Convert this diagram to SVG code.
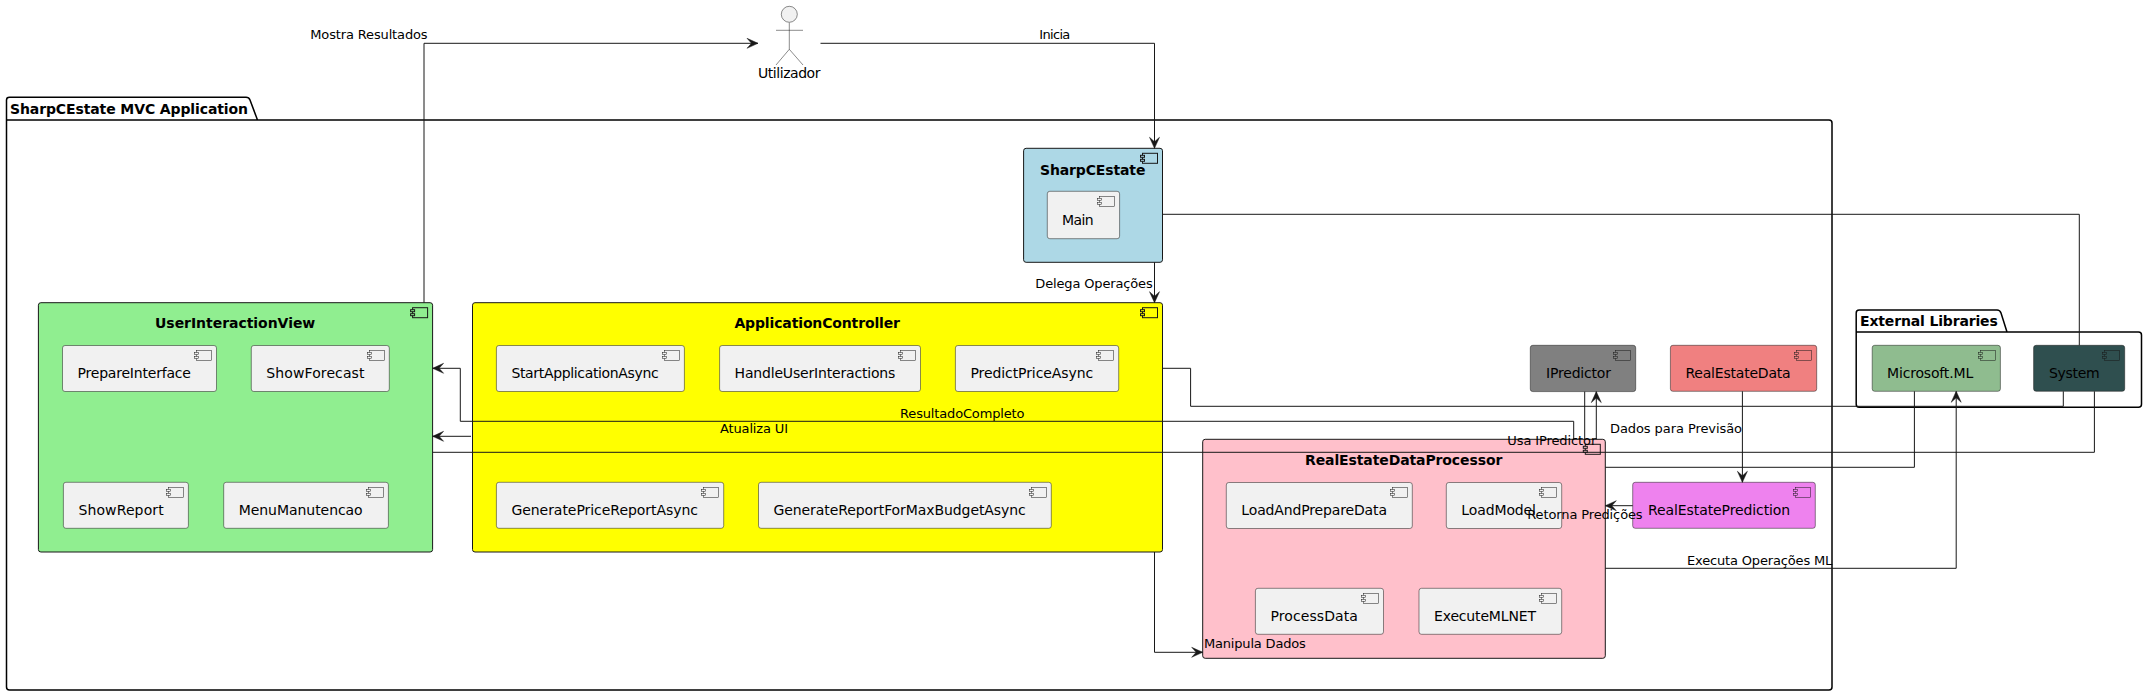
<svg xmlns="http://www.w3.org/2000/svg" width="2147" height="696" viewBox="0 0 2147 696">
<style>
text{font-family:"DejaVu Sans",sans-serif;fill:#000}
.t{font-size:14px}
.b{font-size:14px;font-weight:700}
.l{font-size:13px}
.leaf{stroke:#181818;stroke-width:.5}
.box{stroke:#181818;stroke-width:1}
.pkg{fill:#fff;stroke:#000;stroke-width:1.5}
.lk{fill:none;stroke:#181818;stroke-width:1}
.ar{marker-end:url(#a)}
</style>
<defs>
<marker id="a" markerUnits="userSpaceOnUse" markerWidth="13" markerHeight="12" refX="11" refY="5.500" orient="auto" overflow="visible"><path d="M0,0.500 L11,5.500 L0,10.500 L4.500,5.500 Z" fill="#181818" stroke="#181818" stroke-width=".5"/></marker>
<g id="ic"><rect x="-20" y="5" width="15" height="10"/><rect x="-22" y="7" width="4" height="2"/><rect x="-22" y="11" width="4" height="2"/></g>
</defs>
<rect width="2147" height="696" fill="#fff"/>

<g id="pkg-app">
<path class="pkg" d="M6.5,120 V100 Q6.5,97.300 9.500,97.300 H246 Q249,97.300 250,100 L257.500,120 M6.500,120 H1829 Q1832,120 1832,123 V687 Q1832,690 1829,690 H9.500 Q6.500,690 6.500,687 Z"/>
<text class="b" x="10" y="114" textLength="238">SharpCEstate MVC Application</text>
</g>
<g id="pkg-ext">
<path class="pkg" d="M1856.200,332 V313 Q1856.200,310 1859.200,310 H1997 Q2000,310 2001,313 L2007,332 M1856.200,332 H2138.500 Q2141.500,332 2141.500,335 V404.300 Q2141.500,407.300 2138.500,407.300 H1859.200 Q1856.200,407.300 1856.200,404.300 Z"/>
<text class="b" x="1860" y="326" textLength="137.800">External Libraries</text>
</g>

<g id="actor-utilizador" fill="none" stroke="#181818" stroke-width=".5">
<ellipse cx="789.300" cy="14.300" rx="8" ry="8" fill="#f1f1f1"/>
<path d="M789.300,22.700 V49.300 M776,30.300 H803 M776,65 L789.300,49.300 L803,65"/>
<text class="t" x="758" y="77.500" stroke="none" textLength="62.500">Utilizador</text>
</g>

<g id="SharpCEstate" fill="#ADD8E6" class="box"><rect x="1023.600" y="148.300" width="138.900" height="114" rx="2.500"/><use href="#ic" x="1162.500" y="148.300"/><text class="b" x="1040" y="175" stroke="none" textLength="105.400">SharpCEstate</text></g>
<g id="Main" fill="#F1F1F1" class="leaf"><rect x="1047.300" y="191.300" width="72.300" height="47.400" rx="2.500"/><use href="#ic" x="1119.600" y="191.300"/><text class="t" x="1062" y="224.500" stroke="none" textLength="31.700">Main</text></g>

<g id="UserInteractionView" fill="#90EE90" class="box"><rect x="38.400" y="302.700" width="394.200" height="249.300" rx="2.500"/><use href="#ic" x="432.600" y="302.700"/><text class="b" x="155" y="328" stroke="none" textLength="160.300">UserInteractionView</text></g>
<g id="PrepareInterface" fill="#F1F1F1" class="leaf"><rect x="62.500" y="345.500" width="154" height="46" rx="2.500"/><use href="#ic" x="216.500" y="345.500"/><text class="t" x="77.500" y="378" stroke="none" textLength="113.400">PrepareInterface</text></g>
<g id="ShowForecast" fill="#F1F1F1" class="leaf"><rect x="251.300" y="345.500" width="138" height="46" rx="2.500"/><use href="#ic" x="389.300" y="345.500"/><text class="t" x="266.300" y="378" stroke="none" textLength="98.200">ShowForecast</text></g>
<g id="ShowReport" fill="#F1F1F1" class="leaf"><rect x="63.400" y="482.300" width="125" height="46" rx="2.500"/><use href="#ic" x="188.400" y="482.300"/><text class="t" x="78.400" y="515" stroke="none" textLength="85.300">ShowReport</text></g>
<g id="MenuManutencao" fill="#F1F1F1" class="leaf"><rect x="223.700" y="482.300" width="164.700" height="46" rx="2.500"/><use href="#ic" x="388.400" y="482.300"/><text class="t" x="238.700" y="515" stroke="none" textLength="124">MenuManutencao</text></g>

<g id="ApplicationController" fill="#FFFF00" class="box"><rect x="472.500" y="302.700" width="690" height="249.300" rx="2.500"/><use href="#ic" x="1162.500" y="302.700"/><text class="b" x="734.400" y="328" stroke="none" textLength="165.600">ApplicationController</text></g>
<g id="StartApplicationAsync" fill="#F1F1F1" class="leaf"><rect x="496.400" y="345.500" width="188" height="46" rx="2.500"/><use href="#ic" x="684.400" y="345.500"/><text class="t" x="511.400" y="378" stroke="none" textLength="147.300">StartApplicationAsync</text></g>
<g id="HandleUserInteractions" fill="#F1F1F1" class="leaf"><rect x="719.600" y="345.500" width="200.900" height="46" rx="2.500"/><use href="#ic" x="920.500" y="345.500"/><text class="t" x="734.600" y="378" stroke="none" textLength="160.700">HandleUserInteractions</text></g>
<g id="PredictPriceAsync" fill="#F1F1F1" class="leaf"><rect x="955.400" y="345.500" width="163.300" height="46" rx="2.500"/><use href="#ic" x="1118.700" y="345.500"/><text class="t" x="970.400" y="378" stroke="none" textLength="122.800">PredictPriceAsync</text></g>
<g id="GeneratePriceReportAsync" fill="#F1F1F1" class="leaf"><rect x="496.400" y="482.300" width="227.300" height="46" rx="2.500"/><use href="#ic" x="723.700" y="482.300"/><text class="t" x="511.400" y="515" stroke="none" textLength="186.600">GeneratePriceReportAsync</text></g>
<g id="GenerateReportForMaxBudgetAsync" fill="#F1F1F1" class="leaf"><rect x="758.500" y="482.300" width="292.800" height="46" rx="2.500"/><use href="#ic" x="1051.300" y="482.300"/><text class="t" x="773.500" y="515" stroke="none" textLength="252.200">GenerateReportForMaxBudgetAsync</text></g>

<g id="RealEstateDataProcessor" fill="#FFC0CB" class="box"><rect x="1202.700" y="439.300" width="402.600" height="219" rx="2.500"/><use href="#ic" x="1605.300" y="439.300"/><text class="b" x="1305" y="465" stroke="none" textLength="197.300">RealEstateDataProcessor</text></g>
<g id="LoadAndPrepareData" fill="#F1F1F1" class="leaf"><rect x="1226.300" y="482.500" width="186" height="46" rx="2.500"/><use href="#ic" x="1412.300" y="482.500"/><text class="t" x="1241.300" y="515" stroke="none" textLength="145.700">LoadAndPrepareData</text></g>
<g id="LoadModel" fill="#F1F1F1" class="leaf"><rect x="1446.300" y="482.500" width="115.400" height="46" rx="2.500"/><use href="#ic" x="1561.700" y="482.500"/><text class="t" x="1461.300" y="515" stroke="none" textLength="74.700">LoadModel</text></g>
<g id="ProcessData" fill="#F1F1F1" class="leaf"><rect x="1255.400" y="588.300" width="128.100" height="46" rx="2.500"/><use href="#ic" x="1383.500" y="588.300"/><text class="t" x="1270.400" y="621" stroke="none" textLength="87.500">ProcessData</text></g>
<g id="ExecuteMLNET" fill="#F1F1F1" class="leaf"><rect x="1419" y="588.300" width="142.700" height="46" rx="2.500"/><use href="#ic" x="1561.700" y="588.300"/><text class="t" x="1434" y="621" stroke="none" textLength="102">ExecuteMLNET</text></g>

<g id="IPredictor" fill="#808080" class="leaf"><rect x="1530.300" y="345.300" width="105.400" height="46.300" rx="2.500"/><use href="#ic" x="1635.700" y="345.300"/><text class="t" x="1546" y="378" stroke="none" textLength="65">IPredictor</text></g>
<g id="RealEstateData" fill="#F08080" class="leaf"><rect x="1670.400" y="345.300" width="146.300" height="46" rx="2.500"/><use href="#ic" x="1816.700" y="345.300"/><text class="t" x="1685.400" y="378" stroke="none" textLength="105.300">RealEstateData</text></g>
<g id="RealEstatePrediction" fill="#EE82EE" class="leaf"><rect x="1632.700" y="482.300" width="182.600" height="46" rx="2.500"/><use href="#ic" x="1815.300" y="482.300"/><text class="t" x="1648" y="515" stroke="none" textLength="142.200">RealEstatePrediction</text></g>
<g id="MicrosoftML" fill="#8FBC8F" class="leaf"><rect x="1872.200" y="345.300" width="128.200" height="46" rx="2.500"/><use href="#ic" x="2000.400" y="345.300"/><text class="t" x="1887" y="378" stroke="none" textLength="86.200">Microsoft.ML</text></g>
<g id="System" fill="#2F4F4F" class="leaf"><rect x="2033.600" y="345.300" width="91.100" height="46" rx="2.500"/><use href="#ic" x="2124.700" y="345.300"/><text class="t" x="2049" y="378" stroke="none" textLength="50.700">System</text></g>

<g id="connectors">
<path class="lk ar" d="M424,302.700 V43.300 H758"/>
<path class="lk ar" d="M820.500,43.300 H1154.500 V148.300"/>
<path class="lk ar" d="M1154.500,262.300 V302.700"/>
<path class="lk" d="M1162.500,214.300 H2079.300 V345.300"/>
<path class="lk" d="M1162.500,368.300 H1190.600 V406.300 H2063.300 V391.300"/>
<path class="lk" d="M1605.300,467.300 H1914.400 V391.300"/>
<path class="lk" d="M432.600,452.300 H2094.400 V391.300"/>
<path class="lk ar" d="M1573.700,439.300 V421.300 H460.300 V368.300 H432.600"/>
<path class="lk ar" d="M471,436.300 H432.600"/>
<path class="lk ar" d="M1596.300,439.300 V391.600"/>
<path class="lk" d="M1584.700,391.600 V439.300"/>
<path class="lk ar" d="M1742.400,391.300 V482.300"/>
<path class="lk ar" d="M1632.700,505.700 H1605.300"/>
<path class="lk ar" d="M1605.300,568.300 H1956.200 V391.300"/>
<path class="lk ar" d="M1154.500,552 V652.300 H1202.700"/>
<text class="l" x="310.300" y="39" textLength="117.300">Mostra Resultados</text>
<text class="l" x="1039.300" y="39" textLength="31">Inicia</text>
<text class="l" x="1035.300" y="288" textLength="117.400">Delega Operações</text>
<text class="l" x="900" y="417.500" textLength="124.500">ResultadoCompleto</text>
<text class="l" x="720" y="432.500" textLength="68">Atualiza UI</text>
<text class="l" x="1507.300" y="444.500" textLength="89">Usa IPredictor</text>
<text class="l" x="1610" y="432.500" textLength="132">Dados para Previsão</text>
<text class="l" x="1527.300" y="518.500" textLength="115.300">Retorna Predições</text>
<text class="l" x="1687" y="565" textLength="145.300">Executa Operações ML</text>
<text class="l" x="1204" y="648" textLength="101.800">Manipula Dados</text>
</g>
</svg>
